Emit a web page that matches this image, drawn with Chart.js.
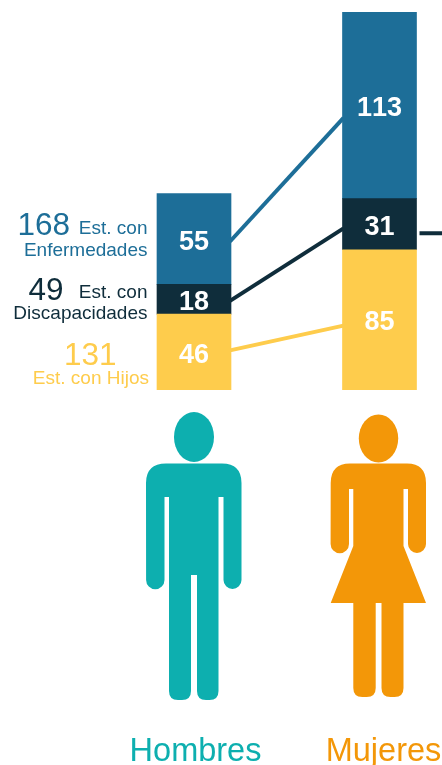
<!DOCTYPE html>
<html lang="es">
<head>
<meta charset="utf-8">
<title>Estudiantes por sexo</title>
<script src="https://cdn.jsdelivr.net/npm/chart.js@4/dist/chart.umd.min.js"></script>
<style>
html,body{margin:0;padding:0;background:#fff;overflow:hidden}
#wrap{position:relative;width:442px;height:765px;overflow:hidden}
canvas{display:block}
</style>
</head>
<body>
<div id="wrap"><canvas id="c" width="473" height="765"></canvas></div>
<script>
const categories = ['Hombres', 'Mujeres'];
const hijos = [46, 85];
const discapacidades = [18, 31];
const enfermedades = [55, 113];
const connectorEnfermedades = [90, 165];
const connectorDiscapacidades = [54, 98];
const connectorHijos = [24, 39];
const stubValue = 95;
const totalEnfermedades = 168;
const totalDiscapacidades = 49;
const totalHijos = 131;

const BLUE = '#1d6e98', DARK = '#0f2d3b', YELLOW = '#fecc4c', TEAL = '#0dafaf', ORANGE = '#f39708';
const FONT = '"Liberation Sans", Arial, sans-serif';

function text(ctx, s, x, y, size, color, align, bold) {
  ctx.font = (bold ? 'bold ' : '') + size + 'px ' + FONT;
  ctx.fontKerning = bold ? 'none' : 'auto';
  ctx.fillStyle = color;
  ctx.textAlign = align;
  ctx.textBaseline = 'alphabetic';
  ctx.fillText(s, x, y);
}

function leg(ctx, right, left, bottom, top) {
  ctx.lineTo(right, bottom - 9);
  ctx.quadraticCurveTo(right, bottom, right - 9, bottom);
  ctx.lineTo(left + 9, bottom);
  ctx.quadraticCurveTo(left, bottom, left, bottom - 9);
  ctx.lineTo(left, top);
}

function man(ctx, cx) {
  const o = cx - 194;
  ctx.save();
  ctx.translate(o, 0);
  ctx.fillStyle = TEAL;
  ctx.beginPath();
  ctx.ellipse(194, 437, 20, 25, 0, 0, Math.PI * 2);
  ctx.fill();
  ctx.beginPath();
  ctx.moveTo(166, 463.5);
  ctx.lineTo(222, 463.5);
  ctx.quadraticCurveTo(241.5, 463.5, 241.5, 483);
  ctx.lineTo(241.5, 580);
  ctx.arc(232.5, 580, 9, 0, Math.PI);
  ctx.lineTo(223.5, 497);
  ctx.lineTo(218.5, 497);
  leg(ctx, 218.5, 197, 700, 575);
  ctx.lineTo(191, 575);
  leg(ctx, 191, 169, 700, 497);
  ctx.lineTo(164.5, 497);
  ctx.lineTo(164.5, 580);
  ctx.arc(155.3, 580, 9.2, 0, Math.PI);
  ctx.lineTo(146, 483);
  ctx.quadraticCurveTo(146, 463.5, 166, 463.5);
  ctx.closePath();
  ctx.fill();
  ctx.restore();
}

function woman(ctx, cx) {
  const o = cx - 379.5;
  ctx.save();
  ctx.translate(o, 0);
  ctx.fillStyle = ORANGE;
  ctx.beginPath();
  ctx.ellipse(378.5, 438.5, 19.7, 24, 0, 0, Math.PI * 2);
  ctx.fill();
  ctx.beginPath();
  ctx.moveTo(350, 463.5);
  ctx.lineTo(407, 463.5);
  ctx.quadraticCurveTo(426, 463.5, 426, 483);
  ctx.lineTo(426, 544);
  ctx.arc(417, 544, 9, 0, Math.PI);
  ctx.lineTo(408, 489);
  ctx.lineTo(403.5, 489);
  ctx.lineTo(403.5, 546);
  ctx.lineTo(426, 603);
  ctx.lineTo(403.5, 603);
  leg(ctx, 403.5, 381.5, 697, 603);
  ctx.lineTo(375.7, 603);
  leg(ctx, 375.7, 353.3, 697, 603);
  ctx.lineTo(330.7, 603);
  ctx.lineTo(353.3, 546);
  ctx.lineTo(353.3, 489);
  ctx.lineTo(349, 489);
  ctx.lineTo(349, 544);
  ctx.arc(339.8, 544, 9.2, 0, Math.PI);
  ctx.lineTo(330.7, 483);
  ctx.quadraticCurveTo(330.7, 463.5, 350, 463.5);
  ctx.closePath();
  ctx.fill();
  ctx.restore();
}

const decor = {
  id: 'decor',
  beforeDatasetsDraw(chart) {
    const { ctx, scales } = chart;
    const y = scales.y;
    const bars = chart.getDatasetMeta(0).data;
    const half = bars[0].width / 2;
    const x0 = bars[0].x + half, x1 = bars[1].x - half;
    ctx.save();
    ctx.lineWidth = 4;
    [[connectorEnfermedades, BLUE], [connectorDiscapacidades, DARK], [connectorHijos, YELLOW]].forEach(([v, col]) => {
      ctx.strokeStyle = col;
      ctx.beginPath();
      ctx.moveTo(x0 - 1, y.getPixelForValue(v[0]));
      ctx.lineTo(x1 + 1, y.getPixelForValue(v[1]));
      ctx.stroke();
    });
    ctx.strokeStyle = DARK;
    ctx.beginPath();
    ctx.moveTo(bars[1].x + half + 3, y.getPixelForValue(stubValue));
    ctx.lineTo(473, y.getPixelForValue(stubValue));
    ctx.stroke();
    ctx.restore();
  },
  afterDatasetsDraw(chart) {
    const { ctx } = chart;
    ctx.save();
    chart.data.datasets.forEach((ds, i) => {
      chart.getDatasetMeta(i).data.forEach((el, j) => {
        const cy = (el.y + el.base) / 2;
        text(ctx, String(ds.data[j]), el.x, cy + 10.5, 27, '#fff', 'center', true);
      });
    });

    text(ctx, String(totalEnfermedades), 17.5, 235, 31.5, BLUE, 'left');
    text(ctx, 'Est. con', 147.5, 234, 19, BLUE, 'right');
    text(ctx, 'Enfermedades', 147.5, 256, 19, BLUE, 'right');

    text(ctx, String(totalDiscapacidades), 28.5, 300, 31.5, DARK, 'left');
    text(ctx, 'Est. con', 147.5, 298, 19, DARK, 'right');
    text(ctx, 'Discapacidades', 147.5, 319, 19, DARK, 'right');

    text(ctx, String(totalHijos), 64, 365, 31.5, YELLOW, 'left');
    text(ctx, 'Est. con Hijos', 149, 384, 19, YELLOW, 'right');

    const bars = chart.getDatasetMeta(0).data;
    man(ctx, bars[0].x);
    woman(ctx, bars[1].x);
    text(ctx, categories[0], 195.5, 761, 32.5, TEAL, 'center');
    text(ctx, categories[1], 383.5, 761, 32.5, ORANGE, 'center');
    ctx.restore();
  }
};

new Chart(document.getElementById('c'), {
  type: 'bar',
  data: {
    labels: categories,
    datasets: [
      { label: 'Est. con Hijos', data: hijos, backgroundColor: YELLOW },
      { label: 'Est. con Discapacidades', data: discapacidades, backgroundColor: DARK },
      { label: 'Est. con Enfermedades', data: enfermedades, backgroundColor: BLUE }
    ]
  },
  options: {
    responsive: false,
    animation: false,
    events: [],
    barThickness: 74,
    layout: { padding: { left: 101.25, right: 0.75, top: 0, bottom: 375 } },
    plugins: { legend: { display: false }, tooltip: { enabled: false } },
    scales: {
      x: { stacked: true, display: false },
      y: { stacked: true, display: false, min: 0, max: 236.4 }
    }
  },
  plugins: [decor]
});
</script>
</body>
</html>
